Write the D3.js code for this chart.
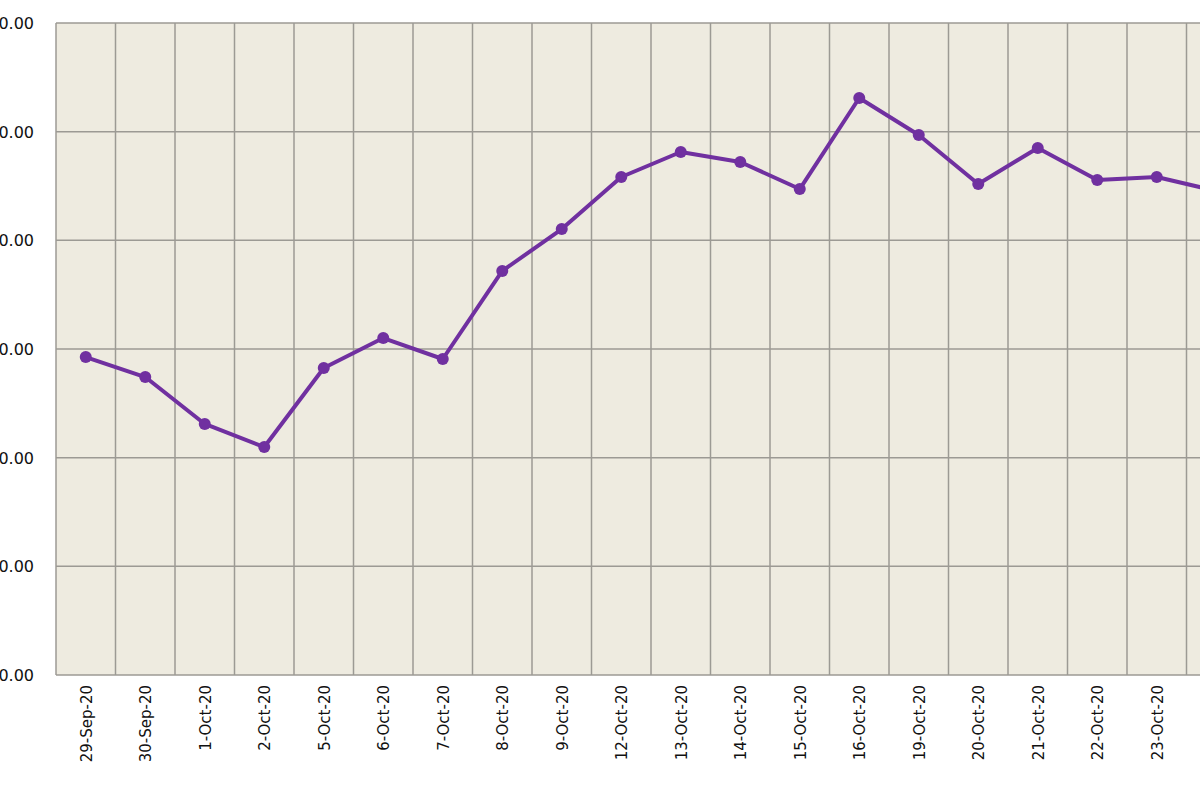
<!DOCTYPE html>
<html><head><meta charset="utf-8">
<script src="https://cdn.jsdelivr.net/npm/d3@7"></script>
<style>body{margin:0;background:#fff}svg{display:block}</style>
</head><body><svg id="c" width="1200" height="800"></svg>
<script>
const categories=["29-Sep-20","30-Sep-20","1-Oct-20","2-Oct-20","5-Oct-20","6-Oct-20","7-Oct-20","8-Oct-20","9-Oct-20","12-Oct-20","13-Oct-20","14-Oct-20","15-Oct-20","16-Oct-20","19-Oct-20","20-Oct-20","21-Oct-20","22-Oct-20","23-Oct-20","26-Oct-20"];
const values=[369.26,367.42,363.10,360.98,368.25,371.01,369.08,377.18,381.04,385.83,388.13,387.21,384.72,393.10,389.69,385.18,388.50,385.55,385.83,384.54];
const yTicks=[340,350,360,370,380,390,400];
const svg=d3.select("#c");
const L=56,T=23,B=675,step=59.5;
const x=d3.scaleBand().domain(categories).range([L,L+step*categories.length]).paddingInner(0).paddingOuter(0);
const y=d3.scaleLinear().domain([340,400]).range([B,T]);
svg.append("rect").attr("x",L).attr("y",T).attr("width",x.range()[1]-L).attr("height",B-T).attr("fill","#EEEBE0");
const g=svg.append("g").attr("stroke","#9c9a94").attr("stroke-width",1.5);
yTicks.forEach(t=>g.append("line").attr("x1",L).attr("x2",x.range()[1]).attr("y1",y(t)).attr("y2",y(t)));
categories.forEach(c=>g.append("line").attr("x1",x(c)).attr("x2",x(c)).attr("y1",T).attr("y2",B));
g.append("line").attr("x1",x.range()[1]).attr("x2",x.range()[1]).attr("y1",T).attr("y2",B);
svg.selectAll(".yl").data(yTicks).enter().append("text").attr("x",34).attr("y",d=>y(d)+6)
 .attr("text-anchor","end").attr("font-family","DejaVu Sans, Verdana").attr("font-size",16).attr("fill","#111").text(d=>d3.format(".2f")(d));
svg.selectAll(".xl").data(categories).enter().append("text")
 .attr("transform",d=>`translate(${x(d)+x.bandwidth()/2+6},${B+10}) rotate(-90)`)
 .attr("text-anchor","end").attr("font-family","DejaVu Sans, Verdana").attr("font-size",15).attr("fill","#111").text(d=>d);
const cx=d=>x(d)+x.bandwidth()/2;
svg.append("path").datum(values).attr("fill","none").attr("stroke","#7030A0").attr("stroke-width",4).attr("stroke-linejoin","round")
 .attr("d",d3.line().x((d,i)=>cx(categories[i])).y(d=>y(d)));
svg.selectAll(".pt").data(values).enter().append("circle").attr("cx",(d,i)=>cx(categories[i])).attr("cy",d=>y(d)).attr("r",6).attr("fill","#7030A0");
</script></body></html>
